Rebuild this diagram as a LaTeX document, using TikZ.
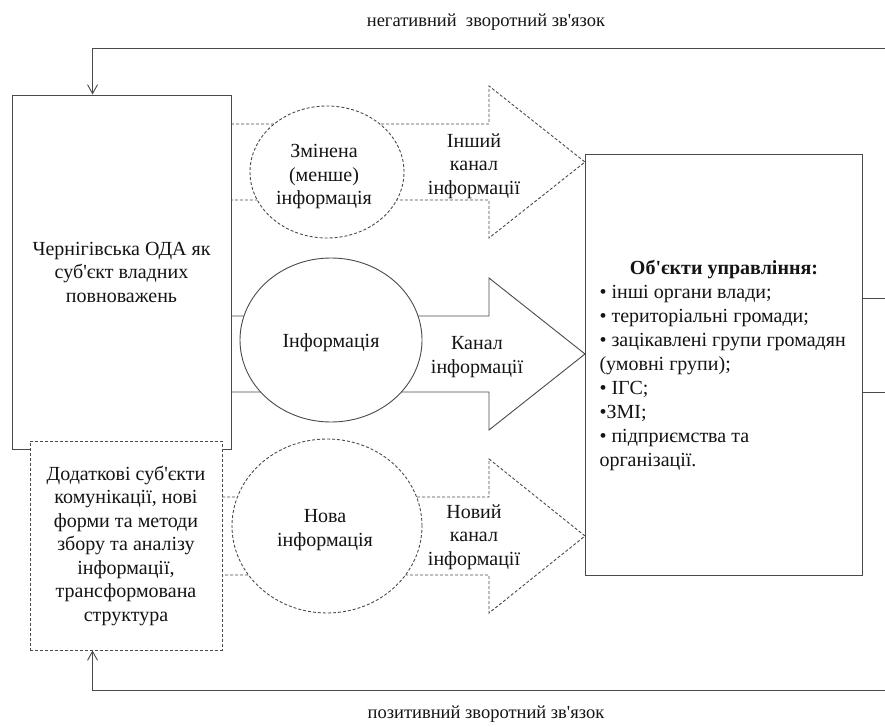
\documentclass[tikz,border=0pt]{standalone}
\usepackage{fontspec}
\setmainfont{Liberation Serif}
\usetikzlibrary{arrows.meta,shapes.geometric}
\definecolor{ln}{HTML}{4A4A4A}
\definecolor{tx}{HTML}{141414}
\newcommand\ap{\textquotesingle}
\begin{document}
\begin{tikzpicture}[x=1pt,y=-1pt,
  every node/.style={text=tx, font=\fontsize{20}{23.5}\selectfont},
  solidbox/.style={draw=ln, line width=0.9pt, fill=white, inner sep=0pt},
  dashbox/.style={draw=ln, line width=0.9pt, dash pattern=on 3pt off 2pt, fill=white, inner sep=0pt},
  ell/.style={ellipse, draw=ln, line width=0.9pt, fill=white, inner sep=0pt, align=center},
  dell/.style={ell, dash pattern=on 3pt off 2pt},
  shp/.style={draw=ln, line width=0.9pt, line join=miter},
  dshp/.style={shp, dash pattern=on 3pt off 2pt},
  fb/.style={draw=ln, line width=0.9pt, -{Straight Barb[length=9pt,width=10pt]}},
  lbl/.style={align=center},
  small/.style={font=\fontsize{18.5}{20}\selectfont}
]
\useasboundingbox (0,0) rectangle (885,727);

% main boxes
\node[solidbox, minimum width=219pt, minimum height=354pt, align=center] (oda) at (121.5,272)
  {Чернігівська ОДА як\\суб\ap{}єкт владних\\повноважень};
\node[dashbox, minimum width=192pt, minimum height=209pt, align=center] (extra) at (126,545.5)
  {Додаткові суб\ap{}єкти\\комунікації, нові\\форми та методи\\збору та аналізу\\інформації,\\трансформована\\структура};
\node[solidbox, minimum width=277pt, minimum height=421pt] (obj) at (723.5,364.5) {};

% channel arrows
\draw[dshp] (231,124) -- (489,124) -- (489,86) -- (585,162) -- (489,238) -- (489,200) -- (231,200);
\draw[shp]  (231,316) -- (489,316) -- (489,278) -- (585,354) -- (489,430) -- (489,392) -- (231,392);
\draw[dshp] (222,497) -- (489,497) -- (489,459) -- (585,536) -- (489,613) -- (489,575) -- (222,575);

% information ellipses
\node[dell, minimum width=154pt, minimum height=132pt] (chg) at (327,172) {};
\node[lbl] (chgt) at ([xshift=-3pt,yshift=-5pt]chg.center) {Змінена\\(менше)\\інформація};
\node[ell,  minimum width=182pt, minimum height=164pt] (inf) at (331,340) {};
\node (inft) at ([yshift=-3pt]inf.center) {Інформація};
\node[dell, minimum width=190pt, minimum height=174pt] (new) at (327,526) {};
\node[lbl] (newt) at ([xshift=-2pt,yshift=-4pt]new.center) {Нова\\інформація};

% channel labels
\node[lbl] (c1) at (474,166) {Інший\\канал\\інформації};
\node[lbl] (c2) at (477,357) {Канал\\інформації};
\node[lbl] (c3) at (474,537) {Новий\\канал\\інформації};

% objects text
\node[font=\fontsize{20}{23.5}\selectfont\bfseries] (ttl) at (724,269) {Об\ap{}єкти управління:};
\foreach \t [count=\i] in {• інші органи влади;, • територіальні громади;, • зацікавлені групи громадян, (умовні групи);, • ІГС;, •ЗМІ;, • підприємства та, організації.}
  \node[anchor=base west] (l\i) at (596,{274+24*\i}) {\t};

% feedback loops
\coordinate (topR) at (885,48);
\coordinate (botR) at (885,690);
\draw[fb] (topR) -| ([xshift=81pt]oda.north west);
\draw[fb] (botR) -| ([xshift=63pt]extra.south west);
\coordinate (r1) at (885,298);
\coordinate (r2) at (885,392);
\draw[shp] (obj.east |- r1) -- (r1);
\draw[shp] (obj.east |- r2) -- (r2);

\node[small] (neg) at (486,22) {негативний\ \ зворотний зв\ap{}язок};
\node[small] (pos) at (486,714) {позитивний зворотний зв\ap{}язок};
\end{tikzpicture}
\end{document}
